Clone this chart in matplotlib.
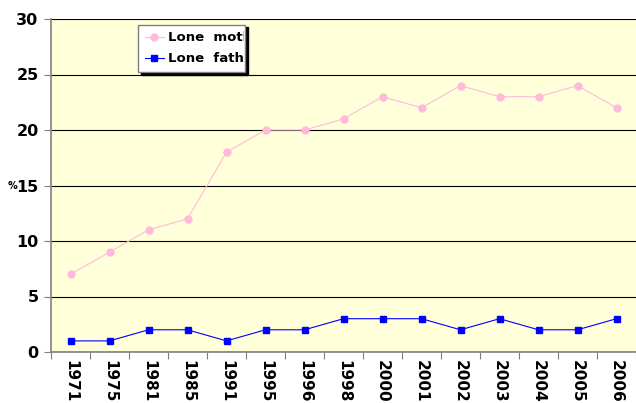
import matplotlib.pyplot as plt
from matplotlib.transforms import Bbox, TransformedBbox
import numpy as np

years = ['1971', '1975', '1981', '1985', '1991', '1995', '1996', '1998',
         '2000', '2001', '2002', '2003', '2004', '2005', '2006']
mothers = [7, 9, 11, 12, 18, 20, 20, 21, 23, 22, 24, 23, 23, 24, 22]
fathers = [1, 1, 2, 2, 1, 2, 2, 3, 3, 3, 2, 3, 2, 2, 3]
y_ticks = [0, 5, 10, 15, 20, 25, 30]

W, H = 636, 403
fig = plt.figure(figsize=(W / 100, H / 100), dpi=100)
ax = fig.add_axes([51 / W, 1 - 352 / H, 585 / W, 333 / H])
ax.set_facecolor('#FFFFD9')

x = np.arange(len(years))
ax.plot(x, mothers, color='#FFBADB', lw=0.8, marker='o', ms=5,
        label='Lone  moth', zorder=3)
ax.plot(x, fathers, color='#0000FF', lw=0.8, marker='s', ms=4.5,
        label='Lone  fathe', zorder=3)

ax.set_xlim(-0.5, len(years) - 0.5)
ax.set_ylim(0, 30)
ax.set_yticks(y_ticks)
ax.set_yticklabels([str(v) for v in y_ticks], fontsize=11.5,
                   fontweight='bold')
ax.yaxis.grid(True, color='black', lw=0.8)
ax.set_axisbelow(True)

ax.set_xticks(np.arange(len(years) + 1) - 0.5)
ax.set_xticklabels([])
ax.set_xticks(x, minor=True)
ax.set_xticklabels(years, minor=True, rotation=-90, fontsize=11,
                   fontweight='bold', va='top')
ax.tick_params(axis='x', which='minor', length=0, pad=6)
ax.tick_params(axis='x', which='major', length=5, color='#808080')
ax.tick_params(axis='y', length=5, color='#808080', pad=4)

for s in ['top', 'right']:
    ax.spines[s].set_visible(False)
for s in ['left', 'bottom']:
    ax.spines[s].set_color('#808080')
    ax.spines[s].set_linewidth(1.2)

fig.text(12 / W, 1 - 186 / H, '%', fontsize=7, fontweight='bold',
         va='center', ha='center')

# legend box is narrower than its text, as in the original
leg = ax.legend(loc='upper left',
                bbox_to_anchor=((138 - 51) / 585, (352 - 28) / 333,
                                (245 - 138) / 585, 0.01),
                mode='expand', fontsize=9.5, frameon=True, fancybox=False,
                shadow={'color': 'black', 'alpha': 1},
                handlelength=1.5, borderpad=0.5, labelspacing=0.6,
                handletextpad=0.3, borderaxespad=0)
leg.get_frame().set_edgecolor('#808080')
leg.get_frame().set_facecolor('white')
clip = TransformedBbox(Bbox.from_extents(0, 0, 244 / W, 1), fig.transFigure)
for t in leg.get_texts():
    t.set_fontweight('bold')
    t.set_clip_box(clip)
    t.set_clip_on(True)

fig.savefig('out.png', dpi=100)
